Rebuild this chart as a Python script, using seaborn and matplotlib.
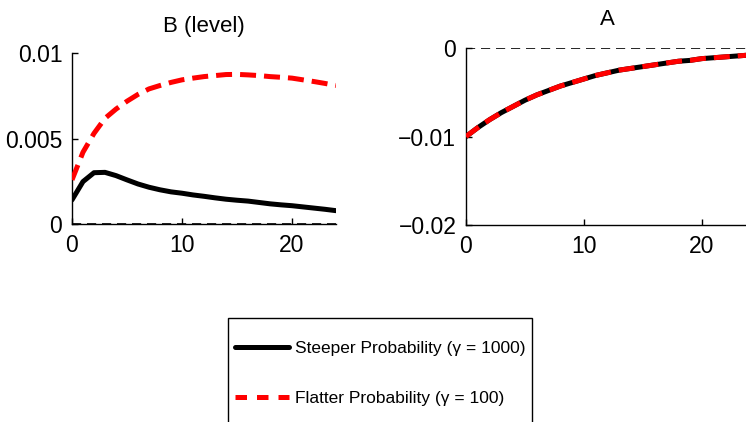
import numpy as np
import pandas as pd
import matplotlib
matplotlib.use("Agg")
import matplotlib.pyplot as plt
from matplotlib.lines import Line2D
from matplotlib.patches import Rectangle
import seaborn as sns

horizon = list(range(25))

b_steeper = [0.00141, 0.00248, 0.00300, 0.00302, 0.00283, 0.00258, 0.00234, 0.00215,
             0.00200, 0.00188, 0.00180, 0.00170, 0.00162, 0.00153, 0.00145, 0.00139,
             0.00134, 0.00126, 0.00118, 0.00112, 0.00107, 0.00100, 0.00093, 0.00086, 0.00078]
b_flatter = [0.00258, 0.00420, 0.00530, 0.00618, 0.00672, 0.00718, 0.00758, 0.00790,
             0.00810, 0.00828, 0.00843, 0.00853, 0.00862, 0.00868, 0.00874, 0.00875,
             0.00872, 0.00868, 0.00862, 0.00858, 0.00853, 0.00843, 0.00833, 0.00822, 0.00810]
a_steeper = [-0.0100, -0.0090, -0.0081, -0.0073, -0.0066, -0.0059, -0.0053, -0.0048,
             -0.0043, -0.0039, -0.0035, -0.0031, -0.0028, -0.0025, -0.0023, -0.0021,
             -0.0019, -0.0017, -0.0015, -0.0014, -0.0012, -0.0011, -0.0010, -0.0009, -0.0008]
a_flatter = list(a_steeper)

titles = ["B (level)", "A"]
b_yticks = [0, 0.005, 0.01]
b_yticklabels = ["0", "0.005", "0.01"]
a_yticks = [-0.02, -0.01, 0]
a_yticklabels = ["\u22120.02", "\u22120.01", "0"]
xticks = [0, 10, 20]
xticklabels = ["0", "10", "20"]
legend_labels = ["Steeper Probability (\u03b3 = 1000)", "Flatter Probability (\u03b3 = 100)"]

sns.set_style("white")
plt.rcParams["font.family"] = ["Liberation Sans", "DejaVu Sans"]
plt.rcParams["text.color"] = "black"
plt.rcParams["axes.labelcolor"] = "black"
plt.rcParams["xtick.color"] = "black"
plt.rcParams["ytick.color"] = "black"

W, H = 746, 422
fig = plt.figure(figsize=(W / 100, H / 100), dpi=100)

def frac(x0, y0, x1, y1):
    return [x0 / W, 1 - y1 / H, (x1 - x0) / W, (y1 - y0) / H]

ax1 = fig.add_axes(frac(72, 53, 336, 224))
ax2 = fig.add_axes(frac(466, 48, 749, 225))

lw = 3.6
dash = (0, (3.2, 1.6))

for ax, st, fl in [(ax1, b_steeper, b_flatter), (ax2, a_steeper, a_flatter)]:
    ax.axhline(0, color="black", lw=1.2, ls=(0, (5.5, 3.5)), zorder=1)
    sns.lineplot(x=horizon, y=st, ax=ax, color="black", linewidth=lw, zorder=3)
    sns.lineplot(x=horizon, y=fl, ax=ax, color="#ff0000", linewidth=lw,
                 linestyle=dash, zorder=4)
    ax.set_xlim(0, 24)
    ax.set_xticks(xticks)
    ax.set_xticklabels(xticklabels)
    for s in ["top", "right"]:
        ax.spines[s].set_visible(False)
    for s in ["left", "bottom"]:
        ax.spines[s].set_linewidth(1.0)
        ax.spines[s].set_color("black")
    ax.tick_params(direction="in", length=4, width=1, labelsize=16.5,
                   colors="black", left=True, bottom=True)
    ax.tick_params(axis="y", pad=7)
    ax.tick_params(axis="x", pad=7)
    ax.set_xlabel("")
    ax.set_ylabel("")

ax1.set_ylim(0, 0.01)
ax1.set_yticks(b_yticks)
ax1.set_yticklabels(b_yticklabels)
ax2.set_ylim(-0.02, 0)
ax2.set_yticks(a_yticks)
ax2.set_yticklabels(a_yticklabels)

ax1.set_title(titles[0], fontsize=16, pad=15, color="black")
ax2.set_title(titles[1], fontsize=16, pad=16.5, color="black")

handles = [Line2D([], [], color="black", lw=lw),
           Line2D([], [], color="#ff0000", lw=lw, ls=(0, (2.3, 2.0)))]
leg = fig.legend(handles, legend_labels, loc="center",
                 bbox_to_anchor=(380 / W, 1 - 373.5 / H), frameon=False,
                 fontsize=12.5, handlelength=3.1, handletextpad=0.35,
                 labelspacing=2.05, borderpad=0)
for t in leg.get_texts():
    t.set_color("black")
fig.patches.append(Rectangle((228 / W, 1 - 430 / H), (532 - 228) / W, (430 - 318) / H,
                             transform=fig.transFigure, fill=False,
                             edgecolor="black", lw=1.0))

fig.savefig("out.png", dpi=100)
